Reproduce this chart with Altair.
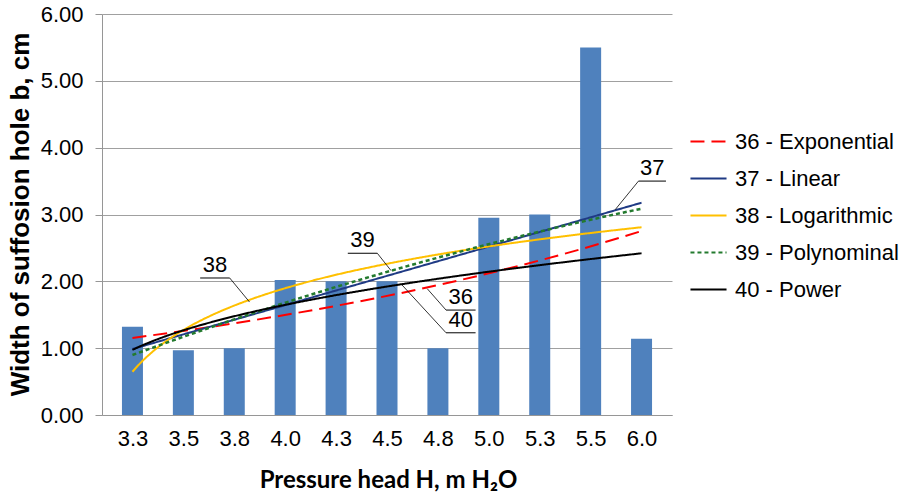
import altair as alt
import pandas as pd

# Measured suffosion hole widths per pressure head
heads = ["3.3", "3.5", "3.8", "4.0", "4.3", "4.5", "4.8", "5.0", "5.3", "5.5", "6.0"]
widths = [1.32, 0.97, 1.00, 2.02, 2.00, 2.00, 1.00, 2.95, 3.00, 5.50, 1.14]
idx = list(range(1, len(heads) + 1))

# Trend line series (legend labels, colours, dash patterns)
series = ["36 - Exponential", "37 - Linear", "38 - Logarithmic", "39 - Polynominal", "40 - Power"]
series_colors = ["#FF0000", "#1F3A84", "#FFC000", "#237A2E", "#000000"]
series_dash = [[14, 7], [1, 0], [1, 0], [4, 3], [1, 0]]

# Callout labels for the trend lines (data units)
ann_text = ["38", "39", "37", "36", "40"]
ann_ux0 = [2.33, 5.23, 10.94, 7.16, 7.16]
ann_ux1 = [2.91, 5.81, 11.48, 7.74, 7.74]
ann_uy = [2.05, 2.42, 3.50, 1.57, 1.23]
ann_lx = [2.91, 5.81, 10.94, 7.16, 7.16]
ann_tx = [3.30, 6.08, 10.48, 6.79, 6.29]
ann_ty = [1.69, 2.16, 3.07, 1.89, 1.95]

FONT = "Liberation Sans"
FS = 22

df = pd.DataFrame({"i": idx, "head": heads, "b": widths})
ann = pd.DataFrame({
    "t": ann_text, "ux0": ann_ux0, "ux1": ann_ux1, "uy": ann_uy,
    "lx": ann_lx, "tx": ann_tx, "ty": ann_ty,
})
ann["mx"] = (ann["ux0"] + ann["ux1"]) / 2

label_list = "[" + ",".join("'%s'" % h for h in heads) + "]"

x_scale = alt.Scale(domain=[0.5, len(heads) + 0.5], nice=False, zero=False)
y_scale = alt.Scale(domain=[0, 6], nice=False)

x_axis = alt.Axis(
    values=idx, labelExpr=label_list + "[datum.value - 1]",
    grid=False, ticks=False, domainColor="#969696", domainWidth=1,
    labelFont=FONT, labelFontSize=FS, labelColor="#000000", labelPadding=13,
    title="Pressure head H, m H\u2082O", titleFont="Lato", titleFontSize=24,
    titleFontWeight="bold", titleColor="#000000",
    titleBaseline="middle", titleY=65, titleX=286,
)
y_axis = alt.Axis(
    values=[0, 1, 2, 3, 4, 5, 6], format=".2f",
    grid=True, gridColor="#A0A0A0", gridWidth=1,
    domainColor="#969696", tickColor="#969696", tickSize=7,
    labelFont=FONT, labelFontSize=FS, labelColor="#000000", labelPadding=12,
    title="Width of suffosion hole b, cm", titleFont=FONT, titleFontSize=26,
    titleFontWeight="bold", titleColor="#000000",
    titleAngle=270, titleBaseline="middle", titleAlign="center",
    titleX=-82, titleY=200,
)

base = alt.Chart(df)

bars = base.mark_bar(size=21, color="#4F81BD").encode(
    x=alt.X("i:Q", scale=x_scale, axis=x_axis),
    y=alt.Y("b:Q", scale=y_scale, axis=y_axis),
)

legend = alt.Legend(
    title=None, orient="none", legendX=587, legendY=108,
    symbolType="stroke", symbolSize=1300, symbolStrokeWidth=2,
    labelFont=FONT, labelFontSize=FS, labelColor="#000000",
    labelOffset=7, rowPadding=6, labelLimit=400,
)
color_enc = alt.Color("trend:N", scale=alt.Scale(domain=series, range=series_colors), legend=legend)
dash_enc = alt.StrokeDash("trend:N", scale=alt.Scale(domain=series, range=series_dash), legend=legend)


def trend(chart, name, width=2.0):
    return chart.transform_calculate(trend="'%s'" % name).mark_line(
        strokeWidth=width, clip=False
    ).encode(
        x=alt.X("i:Q", scale=x_scale),
        y=alt.Y("b:Q", scale=y_scale),
        color=color_enc,
        strokeDash=dash_enc,
    )


# Exponential: least squares on log(b), as in a spreadsheet trendline
exp_line = trend(
    base.transform_calculate(lb="log(datum.b)")
    .transform_regression("i", "lb", method="poly", order=1, extent=[1, 11])
    .transform_calculate(b="exp(datum.lb)"),
    series[0],
)
lin_line = trend(base.transform_regression("i", "b", method="linear", extent=[1, 11]), series[1])
log_line = trend(base.transform_regression("i", "b", method="log", extent=[1, 11]), series[2])
poly_line = trend(base.transform_regression("i", "b", method="poly", order=2, extent=[1, 11]), series[3], 2.5)
pow_line = trend(base.transform_regression("i", "b", method="pow", extent=[1, 11]), series[4])

abase = alt.Chart(ann)
underline = abase.mark_rule(color="#000000", strokeWidth=1).encode(
    x=alt.X("ux0:Q", scale=x_scale), x2="ux1:Q", y=alt.Y("uy:Q", scale=y_scale)
)
leader = abase.mark_rule(color="#000000", strokeWidth=0.8).encode(
    x=alt.X("lx:Q", scale=x_scale), x2="tx:Q",
    y=alt.Y("uy:Q", scale=y_scale), y2="ty:Q",
)
labels = abase.mark_text(
    font=FONT, fontSize=FS, color="#000000", baseline="bottom", dy=-1
).encode(
    x=alt.X("mx:Q", scale=x_scale), y=alt.Y("uy:Q", scale=y_scale), text="t:N"
)

chart = alt.layer(
    bars, exp_line, lin_line, log_line, poly_line, pow_line, underline, leader, labels
).properties(
    width=570, height=401,
    autosize=alt.AutoSizeParams(type="none"),
    padding={"left": 102, "top": 14, "right": 231, "bottom": 79},
    background="#FFFFFF",
).configure_view(stroke=None)

chart.save("out.html", embed_options={"renderer": "svg", "actions": False})
